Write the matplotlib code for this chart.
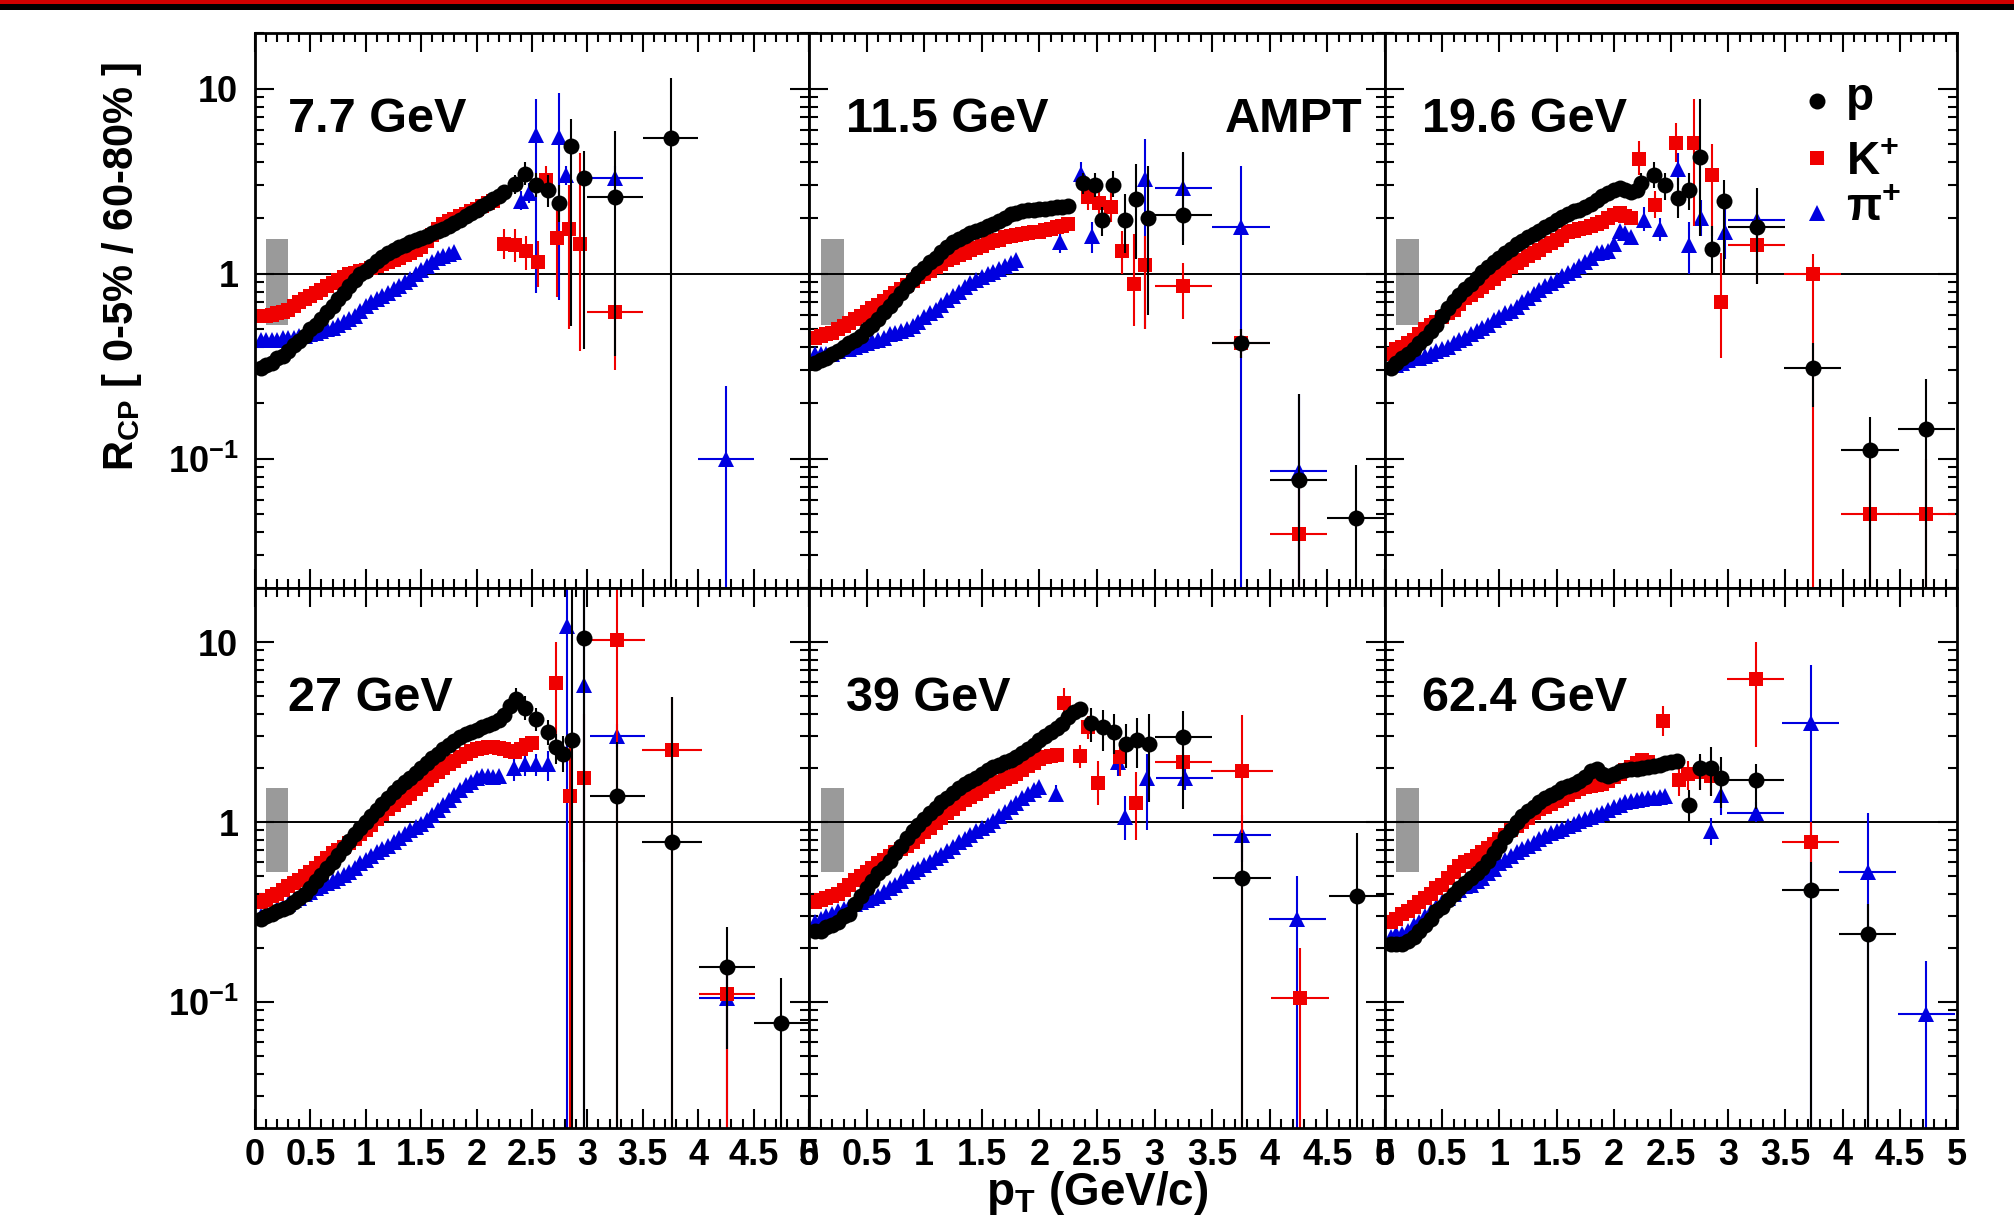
import numpy as np
import matplotlib
matplotlib.use("Agg")
import matplotlib.pyplot as plt
from matplotlib.patches import Rectangle
from matplotlib.ticker import MultipleLocator, LogLocator, NullFormatter

plt.rcParams['font.family'] = ['Liberation Sans', 'DejaVu Sans']
plt.rcParams['font.weight'] = 'bold'
plt.rcParams['mathtext.fontset'] = 'custom'
plt.rcParams['mathtext.rm'] = 'Liberation Sans:bold'
plt.rcParams['mathtext.it'] = 'Liberation Sans:bold'
plt.rcParams['mathtext.bf'] = 'Liberation Sans:bold'
plt.rcParams['mathtext.sf'] = 'Liberation Sans:bold'

# ---------------------------------------------------------------- data
energies = ['7.7 GeV', '11.5 GeV', '19.6 GeV', '27 GeV', '39 GeV', '62.4 GeV']
species = ['p', 'K$^{+}$', '\u03c0$^{+}$']
PT_STEP = 0.05          # fine pT bins: centres at 0.05, 0.10, ...
x_ticks = [0, 0.5, 1, 1.5, 2, 2.5, 3, 3.5, 4, 4.5, 5]
x_tick_labels = ['0', '0.5', '1', '1.5', '2', '2.5', '3', '3.5', '4', '4.5', '5']
y_ticks = [0.1, 1, 10]
y_tick_labels = ['10$^{-1}$', '1', '10']
norm_box = (0.1, 0.3, 0.53, 1.54)   # pT range and R_CP range of the normalisation box

# fine-binned R_CP values
p_7p7 = [0.31, 0.32, 0.33, 0.35, 0.36, 0.38, 0.41, 0.43, 0.46, 0.50, 0.53, 0.57, 0.62, 0.67, 0.73,
         0.79, 0.86, 0.93, 0.99, 1.04, 1.10, 1.17, 1.23, 1.30, 1.34, 1.39, 1.43, 1.48, 1.52, 1.56,
         1.60, 1.65, 1.70, 1.75, 1.81, 1.88, 1.96, 2.04, 2.12, 2.21, 2.31, 2.41, 2.52, 2.64, 2.76]
k_7p7 = [0.59, 0.59, 0.60, 0.61, 0.62, 0.64, 0.67, 0.70, 0.73, 0.76, 0.79, 0.82, 0.86, 0.89, 0.93,
         0.96, 0.99, 1.01, 1.03, 1.05, 1.07, 1.10, 1.13, 1.16, 1.19, 1.22, 1.26, 1.30, 1.34, 1.40,
         1.50, 1.62, 1.75, 1.86, 1.92, 1.98, 2.04, 2.10, 2.17, 2.24, 2.32, 2.40, 2.48]
pi_7p7 = [0.44, 0.44, 0.44, 0.44, 0.45, 0.45, 0.45, 0.46, 0.46, 0.47, 0.48, 0.49, 0.50, 0.51, 0.53,
          0.55, 0.57, 0.59, 0.63, 0.67, 0.70, 0.73, 0.76, 0.79, 0.83, 0.86, 0.90, 0.94, 0.99, 1.05,
          1.10, 1.16, 1.21, 1.25, 1.28, 1.31]

p_11p5 = [0.33, 0.34, 0.35, 0.37, 0.38, 0.40, 0.42, 0.44, 0.46, 0.50, 0.53, 0.57, 0.62, 0.67, 0.72,
          0.79, 0.86, 0.94, 1.01, 1.08, 1.15, 1.22, 1.31, 1.40, 1.48, 1.54, 1.60, 1.66, 1.71, 1.75,
          1.80, 1.86, 1.93, 2.01, 2.09, 2.13, 2.17, 2.20, 2.21, 2.23, 2.24, 2.26, 2.28, 2.30, 2.32]
k_11p5 = [0.45, 0.46, 0.47, 0.48, 0.50, 0.52, 0.54, 0.57, 0.59, 0.62, 0.65, 0.68, 0.71, 0.75, 0.79,
          0.83, 0.87, 0.91, 0.96, 1.00, 1.04, 1.09, 1.13, 1.18, 1.22, 1.26, 1.30, 1.34, 1.38, 1.42,
          1.46, 1.50, 1.53, 1.57, 1.60, 1.62, 1.64, 1.65, 1.67, 1.69, 1.72, 1.75, 1.78, 1.82, 1.86]
pi_11p5 = [0.37, 0.37, 0.37, 0.37, 0.38, 0.39, 0.39, 0.40, 0.41, 0.42, 0.43, 0.44, 0.45, 0.47, 0.48,
           0.49, 0.50, 0.52, 0.55, 0.58, 0.61, 0.64, 0.68, 0.72, 0.76, 0.80, 0.85, 0.89, 0.93, 0.96,
           0.99, 1.02, 1.06, 1.10, 1.14, 1.18]

p_19p6 = [0.31, 0.33, 0.35, 0.37, 0.39, 0.42, 0.45, 0.49, 0.53, 0.59, 0.65, 0.71, 0.77, 0.83, 0.88,
          0.95, 1.02, 1.09, 1.16, 1.22, 1.29, 1.36, 1.44, 1.51, 1.57, 1.63, 1.70, 1.78, 1.86, 1.94,
          2.03, 2.11, 2.17, 2.22, 2.28, 2.39, 2.51, 2.63, 2.74, 2.84, 2.90, 2.85, 2.78, 2.85]
k_19p6 = [0.37, 0.39, 0.40, 0.42, 0.44, 0.47, 0.50, 0.53, 0.55, 0.58, 0.61, 0.64, 0.69, 0.74, 0.77,
          0.81, 0.85, 0.89, 0.94, 0.99, 1.04, 1.09, 1.14, 1.19, 1.24, 1.29, 1.35, 1.41, 1.47, 1.53,
          1.60, 1.67, 1.71, 1.74, 1.77, 1.81, 1.86, 1.91, 1.99, 2.07, 2.12, 2.06, 2.00]
pi_19p6 = [0.32, 0.32, 0.33, 0.34, 0.35, 0.35, 0.36, 0.37, 0.38, 0.39, 0.40, 0.42, 0.44, 0.45, 0.47,
           0.49, 0.51, 0.53, 0.56, 0.58, 0.61, 0.63, 0.66, 0.70, 0.74, 0.78, 0.82, 0.86, 0.89, 0.93,
           0.97, 1.01, 1.05, 1.10, 1.15, 1.22, 1.29, 1.31, 1.32, 1.45, 1.70, 1.65, 1.58]

p_27 = [0.29, 0.30, 0.31, 0.32, 0.33, 0.34, 0.36, 0.38, 0.40, 0.43, 0.47, 0.51, 0.56, 0.60, 0.66,
        0.72, 0.79, 0.86, 0.93, 1.00, 1.08, 1.17, 1.27, 1.37, 1.47, 1.57, 1.67, 1.77, 1.88, 1.99,
        2.12, 2.26, 2.40, 2.55, 2.68, 2.82, 2.96, 3.08, 3.17, 3.26, 3.36, 3.46, 3.57, 3.70, 3.95, 4.40]
k_27 = [0.36, 0.37, 0.39, 0.40, 0.42, 0.44, 0.46, 0.48, 0.50, 0.53, 0.56, 0.59, 0.63, 0.67, 0.70,
        0.73, 0.77, 0.81, 0.86, 0.91, 0.97, 1.04, 1.11, 1.19, 1.25, 1.31, 1.37, 1.44, 1.52, 1.61,
        1.72, 1.80, 1.90, 2.00, 2.10, 2.20, 2.30, 2.40, 2.48, 2.55, 2.59, 2.60, 2.60, 2.59, 2.55,
        2.50, 2.46, 2.55, 2.70, 2.75]
pi_27 = [0.30, 0.31, 0.32, 0.33, 0.34, 0.35, 0.37, 0.38, 0.40, 0.41, 0.43, 0.44, 0.46, 0.47, 0.49,
         0.51, 0.53, 0.56, 0.59, 0.62, 0.65, 0.68, 0.71, 0.74, 0.78, 0.82, 0.86, 0.90, 0.94, 0.98,
         1.03, 1.10, 1.17, 1.25, 1.33, 1.42, 1.51, 1.60, 1.68, 1.75, 1.80, 1.80, 1.79, 1.80]

p_39 = [0.25, 0.25, 0.26, 0.27, 0.28, 0.30, 0.31, 0.35, 0.39, 0.43, 0.47, 0.52, 0.56, 0.61, 0.67,
        0.74, 0.82, 0.89, 0.96, 1.04, 1.12, 1.20, 1.29, 1.37, 1.45, 1.54, 1.62, 1.70, 1.77, 1.85,
        1.94, 2.02, 2.09, 2.15, 2.21, 2.30, 2.42, 2.55, 2.70, 2.87, 3.02, 3.17, 3.33, 3.52, 3.85,
        4.10, 4.24]
k_39 = [0.36, 0.37, 0.38, 0.39, 0.40, 0.42, 0.45, 0.48, 0.50, 0.53, 0.56, 0.59, 0.62, 0.65, 0.68,
        0.71, 0.74, 0.78, 0.83, 0.88, 0.93, 0.99, 1.05, 1.12, 1.19, 1.26, 1.32, 1.38, 1.43, 1.49,
        1.56, 1.63, 1.68, 1.73, 1.78, 1.85, 1.95, 2.04, 2.13, 2.23, 2.30, 2.33, 2.35]
pi_39 = [0.28, 0.29, 0.30, 0.31, 0.32, 0.33, 0.34, 0.35, 0.36, 0.37, 0.38, 0.39, 0.41, 0.43, 0.45,
         0.47, 0.50, 0.53, 0.55, 0.58, 0.60, 0.63, 0.66, 0.69, 0.73, 0.78, 0.81, 0.85, 0.89, 0.93,
         0.97, 1.02, 1.08, 1.14, 1.21, 1.28, 1.37, 1.44, 1.50, 1.56]

p_62p4 = [0.21, 0.21, 0.21, 0.22, 0.23, 0.25, 0.27, 0.29, 0.32, 0.34, 0.37, 0.40, 0.43, 0.46, 0.49,
          0.52, 0.56, 0.61, 0.67, 0.74, 0.83, 0.91, 1.00, 1.08, 1.15, 1.22, 1.29, 1.36, 1.42, 1.48,
          1.54, 1.59, 1.64, 1.69, 1.78, 1.92, 1.98, 1.85, 1.80, 1.86, 1.92, 1.95, 1.97, 1.98, 2.00,
          2.03, 2.06, 2.09, 2.12, 2.16, 2.20]
k_62p4 = [0.28, 0.29, 0.31, 0.32, 0.34, 0.36, 0.38, 0.40, 0.43, 0.45, 0.49, 0.53, 0.57, 0.60, 0.62,
          0.65, 0.68, 0.72, 0.76, 0.81, 0.85, 0.90, 0.95, 1.00, 1.06, 1.12, 1.18, 1.22, 1.26, 1.31,
          1.35, 1.41, 1.47, 1.53, 1.56, 1.58, 1.60, 1.62, 1.70, 1.78, 1.86, 1.94, 2.03, 2.12, 2.21,
          2.15]
pi_62p4 = [0.23, 0.24, 0.24, 0.25, 0.27, 0.28, 0.30, 0.32, 0.34, 0.36, 0.38, 0.40, 0.42, 0.44, 0.45,
           0.47, 0.49, 0.52, 0.55, 0.59, 0.62, 0.65, 0.68, 0.71, 0.74, 0.77, 0.81, 0.84, 0.87, 0.89,
           0.92, 0.95, 0.98, 1.01, 1.04, 1.07, 1.10, 1.13, 1.17, 1.21, 1.25, 1.29, 1.31, 1.33, 1.35,
           1.36, 1.37, 1.38, 1.39]

# high-pT points: (pT, R_CP, pT half-width, lower edge of error, upper edge of error)
p_tail_7p7 = [(2.35, 3.05, 0, 2.7, 3.4), (2.44, 3.47, 0, 3.0, 4.0), (2.54, 3.03, 0, 2.6, 3.5),
              (2.64, 2.83, 0, 2.3, 3.4), (2.74, 2.41, 0, 1.9, 3.0), (2.85, 4.90, 0, 0.52, 6.9),
              (2.97, 3.30, 0, 0.39, 4.6), (3.25, 2.60, 0.25, 0.36, 5.9), (3.75, 5.40, 0.25, 0.01, 11.4)]
k_tail_7p7 = [(2.25, 1.45, 0, 1.2, 1.75), (2.35, 1.43, 0, 1.15, 1.75), (2.45, 1.33, 0, 1.05, 1.6),
              (2.55, 1.16, 0, 0.85, 1.5), (2.63, 3.2, 0, 2.6, 3.8), (2.73, 1.55, 0, 0.75, 2.3),
              (2.83, 1.75, 0, 0.5, 3.0), (2.93, 1.45, 0, 0.38, 4.5), (3.25, 0.62, 0.25, 0.3, 1.0)]
pi_tail_7p7 = [(2.40, 2.47, 0, 2.2, 2.8), (2.47, 2.72, 0, 2.4, 3.1), (2.54, 5.6, 0, 0.79, 8.8),
               (2.74, 5.5, 0, 0.72, 9.5), (2.81, 3.4, 0, 3.0, 3.8), (3.25, 3.3, 0.25, 2.9, 3.8),
               (4.25, 0.10, 0.25, 0.01, 0.247)]

p_tail_11p5 = [(2.38, 3.1, 0, 2.7, 3.5), (2.48, 3.03, 0, 2.6, 3.5), (2.54, 1.96, 0, 1.6, 2.3),
               (2.64, 3.03, 0, 2.6, 3.6), (2.74, 1.96, 0, 1.3, 2.7), (2.84, 2.52, 0, 1.2, 3.9),
               (2.94, 2.01, 0, 0.6, 3.8), (3.25, 2.07, 0.25, 1.43, 4.57), (3.75, 0.42, 0.25, 0.35, 0.5),
               (4.25, 0.077, 0.25, 0.01, 0.225), (4.75, 0.048, 0.25, 0.01, 0.093)]
k_tail_11p5 = [(2.42, 2.6, 0, 2.2, 3.0), (2.52, 2.4, 0, 2.0, 2.8), (2.62, 2.3, 0, 1.9, 2.8),
               (2.72, 1.33, 0, 1.0, 1.7), (2.82, 0.88, 0, 0.52, 1.64), (2.92, 1.11, 0, 0.5, 1.6),
               (3.25, 0.86, 0.25, 0.57, 1.14), (3.75, 0.42, 0.25, 0.35, 0.5), (4.25, 0.039, 0.25, 0.01, 0.07)]
pi_tail_11p5 = [(2.18, 1.49, 0, 1.3, 1.7), (2.36, 3.47, 0, 3.0, 4.0), (2.46, 1.6, 0, 1.3, 1.9),
                (2.92, 3.24, 0, 0.5, 5.35), (3.25, 2.89, 0.25, 1.5, 4.5), (3.75, 1.79, 0.25, 0.01, 3.8),
                (4.25, 0.086, 0.25, 0.01, 0.225)]

p_tail_19p6 = [(2.24, 3.1, 0, 2.7, 3.5), (2.35, 3.4, 0, 2.9, 4.0), (2.45, 3.0, 0, 2.5, 3.5),
               (2.56, 2.58, 0, 2.0, 3.3), (2.66, 2.83, 0, 2.2, 3.5), (2.75, 4.26, 0, 1.6, 8.8),
               (2.86, 1.36, 0, 1.0, 1.8), (2.96, 2.47, 0, 1.0, 3.2), (3.25, 1.79, 0.25, 0.88, 2.9),
               (3.74, 0.31, 0.25, 0.19, 0.42), (4.24, 0.111, 0.25, 0.01, 0.167), (4.73, 0.144, 0.25, 0.01, 0.27)]
k_tail_19p6 = [(2.22, 4.17, 0, 3.4, 5.2), (2.36, 2.36, 0, 2.0, 2.8), (2.54, 5.1, 0, 4.0, 6.5),
               (2.70, 5.1, 0, 1.8, 8.8), (2.86, 3.4, 0, 1.6, 5.0), (2.94, 0.70, 0, 0.35, 1.3),
               (3.25, 1.43, 0.25, 0.88, 2.06), (3.74, 1.0, 0.25, 0.01, 1.27), (4.24, 0.050, 0.25, 0.01, 0.1),
               (4.73, 0.050, 0.25, 0.01, 0.1)]
pi_tail_19p6 = [(2.26, 1.96, 0, 1.7, 2.3), (2.40, 1.75, 0, 1.5, 2.0), (2.56, 3.7, 0, 3.0, 4.5),
                (2.66, 1.43, 0, 1.0, 1.9), (2.76, 2.0, 0, 1.6, 2.5), (2.97, 1.67, 0, 1.2, 2.3),
                (3.25, 1.96, 0.25, 1.55, 2.5)]

p_tail_27 = [(2.36, 4.83, 0, 4.2, 5.6), (2.44, 4.3, 0, 3.7, 5.0), (2.54, 3.73, 0, 3.2, 4.3),
             (2.64, 3.19, 0, 2.7, 3.7), (2.72, 2.6, 0, 2.1, 3.1), (2.78, 2.4, 0, 1.9, 3.0),
             (2.86, 2.87, 0, 0.01, 30), (2.97, 10.5, 0, 0.01, 30), (3.27, 1.39, 0.25, 0.01, 2.8),
             (3.76, 0.78, 0.27, 0.01, 4.95), (4.26, 0.156, 0.25, 0.055, 0.26), (4.75, 0.077, 0.25, 0.01, 0.137)]
k_tail_27 = [(2.72, 5.95, 0, 2.9, 10), (2.84, 1.39, 0, 0.01, 3.0), (2.97, 1.75, 0, 0.6, 4.0),
             (3.27, 10.3, 0.25, 0.01, 30), (3.76, 2.52, 0.27, 0.01, 4.95), (4.26, 0.111, 0.25, 0.01, 0.16)]
pi_tail_27 = [(2.34, 2.0, 0, 1.7, 2.3), (2.44, 2.1, 0, 1.8, 2.4), (2.54, 2.1, 0, 1.8, 2.4),
              (2.64, 2.1, 0, 1.7, 2.5), (2.82, 12.3, 0, 0.01, 30), (2.97, 5.8, 0, 0.01, 30),
              (3.27, 3.03, 0.25, 2.6, 3.5), (4.26, 0.105, 0.25, 0.01, 0.16)]

p_tail_39 = [(2.45, 3.54, 0, 2.8, 4.3), (2.55, 3.36, 0, 2.5, 4.2), (2.65, 3.19, 0, 2.4, 4.0),
             (2.75, 2.73, 0, 2.0, 3.5), (2.85, 2.87, 0, 2.0, 3.8), (2.95, 2.73, 0, 1.3, 4.0),
             (3.25, 2.99, 0.25, 1.19, 4.13), (3.76, 0.49, 0.25, 0.01, 0.87), (4.76, 0.39, 0.25, 0.01, 0.87)]
k_tail_39 = [(2.21, 4.59, 0, 3.8, 5.6), (2.35, 2.33, 0, 2.0, 2.7), (2.42, 3.4, 0, 2.9, 3.9),
             (2.51, 1.66, 0, 1.25, 2.2), (2.70, 2.3, 0, 1.8, 2.8), (2.84, 1.28, 0, 0.8, 1.9),
             (3.25, 2.16, 0.25, 1.62, 2.87), (3.76, 1.92, 0.27, 0.01, 3.93), (4.26, 0.105, 0.25, 0.01, 0.2)]
pi_tail_39 = [(2.14, 1.43, 0, 1.3, 1.6), (2.68, 2.16, 0, 1.8, 2.5), (2.74, 1.07, 0, 0.8, 1.4),
              (2.93, 1.75, 0, 0.9, 2.4), (3.26, 1.75, 0.25, 1.5, 2.0), (3.76, 0.85, 0.25, 0.6, 1.1),
              (4.24, 0.29, 0.25, 0.01, 0.5)]

p_tail_62p4 = [(2.66, 1.25, 0, 1.0, 1.5), (2.75, 2.0, 0, 1.5, 2.4), (2.85, 2.0, 0, 1.4, 2.6),
               (2.94, 1.75, 0, 1.2, 2.3), (3.24, 1.71, 0.25, 1.19, 2.1), (3.72, 0.42, 0.25, 0.01, 0.6),
               (4.22, 0.24, 0.25, 0.01, 0.35)]
k_tail_62p4 = [(2.43, 3.63, 0, 3.0, 4.4), (2.57, 1.71, 0, 1.4, 2.1), (2.65, 1.85, 0, 1.5, 2.2),
               (2.75, 1.9, 0, 1.5, 2.3), (2.85, 1.8, 0, 1.4, 2.2), (3.24, 6.26, 0.25, 2.6, 10),
               (3.72, 0.78, 0.25, 0.6, 1.0)]
pi_tail_62p4 = [(2.85, 0.89, 0, 0.75, 1.05), (2.94, 1.42, 0, 1.1, 1.8), (3.24, 1.13, 0.25, 1.0, 1.3),
                (3.72, 3.54, 0.25, 0.01, 7.5), (4.22, 0.53, 0.25, 0.01, 1.13), (4.73, 0.086, 0.25, 0.01, 0.17)]

panels = [
    (energies[0], (p_7p7, p_tail_7p7), (k_7p7, k_tail_7p7), (pi_7p7, pi_tail_7p7)),
    (energies[1], (p_11p5, p_tail_11p5), (k_11p5, k_tail_11p5), (pi_11p5, pi_tail_11p5)),
    (energies[2], (p_19p6, p_tail_19p6), (k_19p6, k_tail_19p6), (pi_19p6, pi_tail_19p6)),
    (energies[3], (p_27, p_tail_27), (k_27, k_tail_27), (pi_27, pi_tail_27)),
    (energies[4], (p_39, p_tail_39), (k_39, k_tail_39), (pi_39, pi_tail_39)),
    (energies[5], (p_62p4, p_tail_62p4), (k_62p4, k_tail_62p4), (pi_62p4, pi_tail_62p4)),
]

# ---------------------------------------------------------------- style
RED = '#f00000'
BLUE = '#0000e0'
styles = {
    'p': dict(marker='o', color='black', ms=11.5, z=5),
    'k': dict(marker='s', color=RED, ms=10.5, z=4),
    'pi': dict(marker='^', color=BLUE, ms=11.5, z=3),
}

W, H = 2014, 1216
fig = plt.figure(figsize=(W / 100, H / 100), dpi=100)
fig.patch.set_facecolor('white')

# header stripe
fig.patches.append(Rectangle((0, 1 - 4.5 / H), 1, 4.5 / H, transform=fig.transFigure,
                             facecolor='#d00000', edgecolor='none'))
fig.patches.append(Rectangle((0, 1 - 10 / H), 1, 5.5 / H, transform=fig.transFigure,
                             facecolor='black', edgecolor='none'))

cols = [(255, 554), (809, 576), (1385, 572)]
rows = [(33, 555), (588, 540)]
label_x = [0.060, 0.064, 0.065]
label_y = [0.822, 0.772]


def draw_species(ax, dense, tail, st):
    x = PT_STEP * np.arange(1, len(dense) + 1)
    ax.plot(x, dense, linestyle='none', marker=st['marker'], color=st['color'],
            ms=st['ms'], mew=0, zorder=st['z'])
    tx, ty, txe, tlo, thi = (np.array(v, dtype=float) for v in zip(*tail))
    ax.errorbar(tx, ty, xerr=txe, yerr=[ty - tlo, thi - ty], fmt=st['marker'],
                color=st['color'], ms=st['ms'], mew=0, elinewidth=1.5, capsize=0,
                zorder=st['z'])


for i, (label, p_set, k_set, pi_set) in enumerate(panels):
    r, c = divmod(i, 3)
    x0, w = cols[c]
    y0, h = rows[r]
    ax = fig.add_axes([x0 / W, 1 - (y0 + h) / H, w / W, h / H])
    ax.set_xlim(0, 5)
    ax.set_yscale('log')
    ax.set_ylim(0.02, 20)

    bx0, bx1, by0, by1 = norm_box
    ax.add_patch(Rectangle((bx0, by0), bx1 - bx0, by1 - by0, facecolor='#9a9a9a',
                           edgecolor='none', zorder=1))
    ax.axhline(1.0, color='black', lw=1.4, zorder=2)

    draw_species(ax, *pi_set, styles['pi'])
    draw_species(ax, *k_set, styles['k'])
    draw_species(ax, *p_set, styles['p'])

    ax.xaxis.set_major_locator(MultipleLocator(0.5))
    ax.xaxis.set_minor_locator(MultipleLocator(0.1))
    ax.yaxis.set_major_locator(LogLocator(base=10, subs=(1.0,)))
    ax.yaxis.set_minor_locator(LogLocator(base=10, subs=tuple(range(2, 10)), numticks=20))
    ax.yaxis.set_minor_formatter(NullFormatter())
    ax.tick_params(which='both', direction='in', top=True, right=True, width=1.5,
                   labelsize=26, pad=7)
    ax.tick_params(which='major', length=14)
    ax.tick_params(which='minor', length=6.5)
    for sp in ax.spines.values():
        sp.set_linewidth(2.0)
        sp.set_zorder(10)

    if r == 1:
        ax.set_xticks(x_ticks)
        ax.set_xticklabels(x_tick_labels, fontweight='bold')
    else:
        ax.tick_params(labelbottom=False)
    if c == 0:
        ax.set_yticks(y_ticks)
        ax.set_yticklabels(y_tick_labels, fontweight='bold')
        ax.tick_params(axis='y', pad=12)
    else:
        ax.tick_params(labelleft=False)

    ax.text(label_x[c], label_y[r], label, transform=ax.transAxes, fontsize=35,
            fontweight='bold', ha='left', va='baseline', zorder=12)

    if i == 1:
        ax.text(0.961, label_y[r], 'AMPT', transform=ax.transAxes, fontsize=35,
                fontweight='bold', ha='right', va='baseline', zorder=12)
    if i == 2:
        mark_y = [0.878, 0.775, 0.676]
        text_y = [0.861, 0.744, 0.661]
        for key, name, my, ty in zip(['p', 'k', 'pi'], species, mark_y, text_y):
            st = styles[key]
            ax.plot([0.755], [my], transform=ax.transAxes, linestyle='none',
                    marker=st['marker'], color=st['color'], ms=st['ms'], mew=0,
                    clip_on=False, zorder=12)
            ax.text(0.806, ty, name, transform=ax.transAxes, fontsize=33,
                    fontweight='bold', ha='left', va='baseline', zorder=12)

fig.text(122 / W, 1 - 266 / H, 'R$_{CP}$ [ 0-5% / 60-80% ]', rotation=90,
         fontsize=30, fontweight='bold', ha='center', va='center')
fig.text(1097 / W, 1 - 1205 / H, 'p$_{T}$ (GeV/c)', fontsize=33, fontweight='bold',
         ha='center', va='baseline')

fig.savefig('out.png', dpi=100)
